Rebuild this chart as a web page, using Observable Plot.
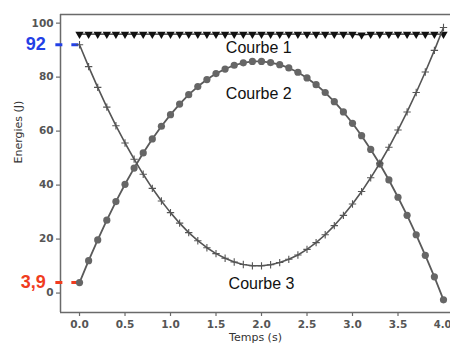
<!DOCTYPE html>
<html>
<head>
<meta charset="utf-8">
<script src="https://cdn.jsdelivr.net/npm/d3@7"></script>
<script src="https://cdn.jsdelivr.net/npm/@observablehq/plot@0.6"></script>
<style>
  html, body { margin: 0; padding: 0; background: #fff; }
  #chart { width: 450px; height: 345px; }
</style>
</head>
<body>
<div id="chart"></div>
<script>
const temps = [0.0,0.1,0.2,0.3,0.4,0.5,0.6,0.7,0.8,0.9,1.0,1.1,1.2,1.3,1.4,1.5,1.6,1.7,1.8,1.9,2.0,2.1,2.2,2.3,2.4,2.5,2.6,2.7,2.8,2.9,3.0,3.1,3.2,3.3,3.4,3.5,3.6,3.7,3.8,3.9,4.0];
const courbe1 = [95.9,95.9,95.9,95.9,95.9,95.9,95.9,95.9,95.9,95.9,95.9,95.9,95.9,95.9,95.9,95.9,95.9,95.9,95.9,95.9,95.9,95.9,95.9,95.9,95.9,95.9,95.9,95.9,95.9,95.9,95.9,95.6,95.9,95.9,95.9,95.9,95.9,95.9,95.9,95.9,95.9];
const courbe2 = [3.9,12.0,19.7,27.0,33.9,40.3,46.3,51.9,57.1,61.8,66.1,70.0,73.5,76.5,79.1,81.3,83.0,84.4,85.3,85.8,85.8,85.4,84.6,83.4,81.8,79.7,77.2,74.3,70.9,67.1,62.9,58.3,53.2,47.8,41.9,35.5,28.8,21.6,14.0,6.0,-2.5];
const courbe3 = [92.0,83.9,76.2,68.9,62.0,55.6,49.6,44.0,38.8,34.1,29.8,25.9,22.4,19.4,16.8,14.6,12.9,11.5,10.6,10.1,10.1,10.5,11.3,12.5,14.1,16.2,18.7,21.6,25.0,28.8,33.0,37.6,42.7,48.1,54.0,60.4,67.1,74.3,81.9,89.9,98.4];
const xTicks = [0,0.5,1,1.5,2,2.5,3,3.5,4];
const yTicks = [0,20,40,60,80,100];
const courbeLabels = [
  {t: 1.97, v: 90.8, text: "Courbe 1"},
  {t: 1.97, v: 73.8, text: "Courbe 2"},
  {t: 2.0, v: 3.5, text: "Courbe 3"}
];
const guides = [
  {v: 92, text: "92", color: "#2340e6"},
  {v: 3.9, text: "3,9", color: "#f03c1e"}
];

const xDom = [-0.209, 4.077];
const yDom = [-7.2, 103.2];

const d1 = temps.map((t, i) => ({t, v: courbe1[i]}));
const d2 = temps.map((t, i) => ({t, v: courbe2[i]}));
const d3s = temps.map((t, i) => ({t, v: courbe3[i]}));

const spine = "#6a6a6a";
const fmt = d3.format(".1f");
const xTicksMain = xTicks.slice(0, -1);
const xTicksLast = xTicks.slice(-1);

const chart = Plot.plot({
  width: 450,
  height: 345,
  marginLeft: 60,
  marginRight: 0,
  marginTop: 14,
  marginBottom: 33,
  style: {fontFamily: "DejaVu Sans", background: "#fff", overflow: "visible"},
  x: {domain: xDom, label: null},
  y: {domain: yDom, label: null},
  marks: [
    Plot.axisX({ticks: xTicksMain, tickFormat: fmt, tickSize: 4, tickPadding: 4, label: null, stroke: spine, fill: "#555", fontSize: 10.5, fontWeight: 600, strokeWidth: 1.2}),
    Plot.axisX({ticks: xTicksLast, tickFormat: fmt, tickSize: 4, tickPadding: 4, label: null, stroke: spine, fill: "#555", fontSize: 10, fontWeight: 600, strokeWidth: 1.2, textAnchor: "end", dx: 8}),
    Plot.axisY({ticks: yTicks, tickFormat: d => String(d), tickSize: 4, tickPadding: 3, label: null, stroke: spine, fill: "#555", fontSize: 10.5, fontWeight: 600, strokeWidth: 1.2}),
    Plot.ruleY([yDom[1]], {stroke: spine, strokeWidth: 1.5}),
    Plot.ruleY([yDom[0]], {stroke: spine, strokeWidth: 1.5}),
    Plot.ruleX([xDom[0]], {stroke: spine, strokeWidth: 1.5}),
    // guides
    Plot.ruleY(guides, {y: "v", x1: -0.26, x2: 0, stroke: "color", strokeWidth: 3, strokeDasharray: "7,9", clip: false}),
    Plot.text(guides, {x: -0.26, y: "v", text: "text", fill: "color", textAnchor: "end", dx: -10, fontSize: 18, fontWeight: "bold", fontFamily: "Liberation Sans", clip: false}),
    // curves
    Plot.line(d1, {x: "t", y: "v", stroke: "#222", strokeWidth: 1.3}),
    Plot.dot(d1, {x: "t", y: "v", symbol: "triangle", rotate: 180, r: 3.1, fill: "#111", stroke: "none"}),
    Plot.line(d2, {x: "t", y: "v", stroke: "#5a5a5a", strokeWidth: 1.8}),
    Plot.dot(d2, {x: "t", y: "v", r: 3.6, fill: "#666", stroke: "none"}),
    Plot.line(d3s, {x: "t", y: "v", stroke: "#555", strokeWidth: 1.6}),
    Plot.dot(d3s, {x: "t", y: "v", symbol: "plus", r: 2.5, stroke: "#555", strokeWidth: 1.1, fill: "none"}),
    // labels
    Plot.text(courbeLabels, {x: "t", y: "v", text: "text", fontSize: 16, fill: "#111", fontFamily: "Liberation Sans"}),
    Plot.text(["Temps (s)"], {frameAnchor: "bottom", dy: 28, fontSize: 11, fill: "#333", fontFamily: "DejaVu Sans"}),
    Plot.text(["Energies (J)"], {frameAnchor: "left", dx: -42, rotate: -90, fontSize: 11, fill: "#333", fontFamily: "DejaVu Sans"})
  ]
});

document.getElementById("chart").appendChild(chart);
</script>
</body>
</html>
